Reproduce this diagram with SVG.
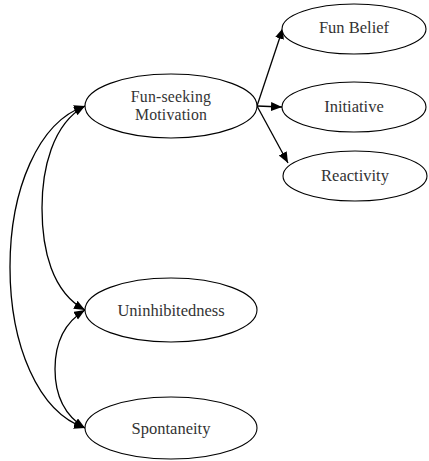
<svg xmlns="http://www.w3.org/2000/svg" width="429" height="461" viewBox="0 0 429 461">
<defs>
<marker id="ah" markerUnits="userSpaceOnUse" markerWidth="12" markerHeight="10" refX="11" refY="4.5" orient="auto-start-reverse">
<path d="M0,0 L11,4.5 L0,9 z" fill="#000"/>
</marker>
<style>
.n ellipse{fill:#fff;stroke:#000;stroke-width:1.1}
.n text{font-family:"Liberation Serif","Times New Roman",serif;font-size:16.5px;fill:#333;text-anchor:middle}
.n text.s{font-size:15.8px;letter-spacing:0.2px}
.c path{fill:none;stroke:#000;stroke-width:1.3}
</style>
</defs>
<rect width="429" height="461" fill="#fff"/>
<g class="c" id="connectors">
<path d="M257,106 L283,28" marker-end="url(#ah)"/>
<path d="M257,106 L282,107" marker-end="url(#ah)"/>
<path d="M257,106 L288,163" marker-end="url(#ah)"/>
<path d="M85,106 C38,122 10,190 10,267 C10,345 38,412 85,428" marker-start="url(#ah)" marker-end="url(#ah)"/>
<path d="M85,106 C52,124 42,170 42,208 C42,250 52,292 85,310" marker-start="url(#ah)" marker-end="url(#ah)"/>
<path d="M85,310 C62,324 55,346 55,369 C55,392 62,414 85,428" marker-start="url(#ah)" marker-end="url(#ah)"/>
</g>
<g class="n" id="fsm"><ellipse cx="171" cy="106" rx="86" ry="32"/><text class="s" x="171" y="102">Fun-seeking</text><text class="s" x="171" y="120">Motivation</text></g>
<g class="n" id="fb"><ellipse cx="354" cy="29" rx="72" ry="25"/><text x="354" y="33">Fun Belief</text></g>
<g class="n" id="ini"><ellipse cx="354" cy="107" rx="72" ry="25"/><text x="354" y="112">Initiative</text></g>
<g class="n" id="rea"><ellipse cx="355" cy="176" rx="72" ry="25"/><text x="355" y="181">Reactivity</text></g>
<g class="n" id="uni"><ellipse cx="171" cy="310" rx="86" ry="32"/><text x="171" y="316">Uninhibitedness</text></g>
<g class="n" id="spo"><ellipse cx="171" cy="428" rx="86" ry="31"/><text x="171" y="434">Spontaneity</text></g>
</svg>
